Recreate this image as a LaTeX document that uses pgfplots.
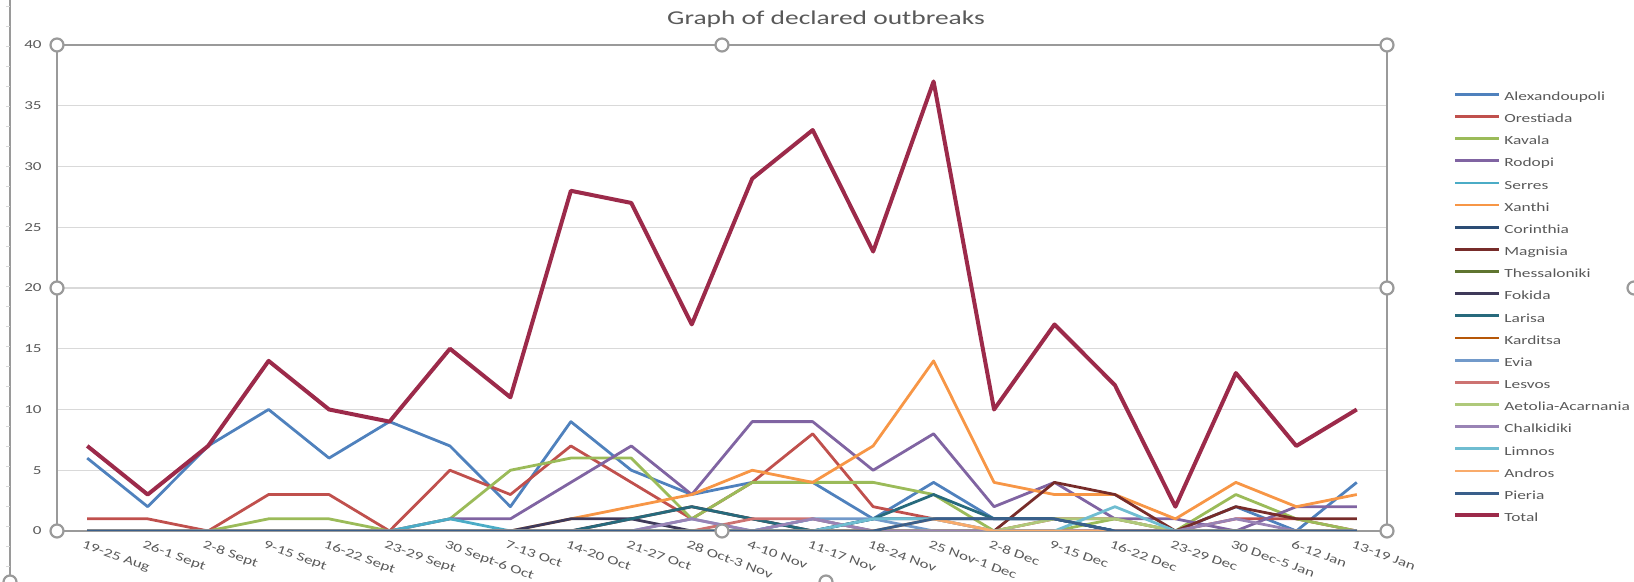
\documentclass[border=0pt]{standalone}
\usepackage{fontspec}
\setmainfont{Carlito}[FakeStretch=1.4]
\usepackage{pgfplots}
\pgfplotsset{compat=1.18}
\usepackage{pgfplotstable}

\definecolor{cAlex}{HTML}{4F81BD}
\definecolor{cOres}{HTML}{C0504D}
\definecolor{cKava}{HTML}{9BBB59}
\definecolor{cRodo}{HTML}{8064A2}
\definecolor{cSerr}{HTML}{4BACC6}
\definecolor{cXant}{HTML}{F79646}
\definecolor{cCori}{HTML}{2C4D75}
\definecolor{cMagn}{HTML}{772C2A}
\definecolor{cThes}{HTML}{5F7530}
\definecolor{cFoki}{HTML}{3F3A5A}
\definecolor{cLari}{HTML}{276A7C}
\definecolor{cKard}{HTML}{B65708}
\definecolor{cEvia}{HTML}{729ACA}
\definecolor{cLesv}{HTML}{CD7371}
\definecolor{cAeto}{HTML}{AFC97A}
\definecolor{cChal}{HTML}{9983B5}
\definecolor{cLimn}{HTML}{6FBDD1}
\definecolor{cAndr}{HTML}{F9AB6B}
\definecolor{cPier}{HTML}{3A5F8B}
\definecolor{cTotal}{HTML}{9C2A4A}
\definecolor{gridgray}{HTML}{D9D9D9}
\definecolor{framegray}{HTML}{9A9A9A}
\definecolor{labelgray}{HTML}{595959}

% weekly declared outbreaks per regional unit, weeks 0..21
\pgfplotstableread{
i  Alex Ores Kava Rodo Serr Xant Cori Magn Thes Foki Lari Kard Evia Lesv Aeto Chal Limn Andr Pier Total
0  6    1    0    0    0    0    0    0    0    0    0    0    0    0    0    0    0    0    0    7
1  2    1    0    0    0    0    0    0    0    0    0    0    0    0    0    0    0    0    0    3
2  7    0    0    0    0    0    0    0    0    0    0    0    0    0    0    0    0    0    0    7
3  10   3    1    0    0    0    0    0    0    0    0    0    0    0    0    0    0    0    0    14
4  6    3    1    0    0    0    0    0    0    0    0    0    0    0    0    0    0    0    0    10
5  9    0    0    0    0    0    0    0    0    0    0    0    0    0    0    0    0    0    0    9
6  7    5    1    1    1    0    0    0    0    0    0    0    0    0    0    0    0    0    0    15
7  2    3    5    1    0    0    0    0    0    0    0    0    0    0    0    0    0    0    0    11
8  9    7    6    4    0    1    0    0    0    1    0    0    0    0    0    0    0    0    0    28
9  5    4    6    7    0    2    0    1    0    1    1    0    0    0    0    0    0    0    0    27
10 3    1    1    3    0    3    0    2    0    0    2    0    1    0    0    1    0    0    0    17
11 4    4    4    9    0    5    0    1    0    0    1    0    0    1    0    0    0    0    0    29
12 4    8    4    9    1    4    0    0    0    0    0    0    1    1    0    1    0    0    0    33
13 1    2    4    5    0    7    1    0    0    0    1    0    1    0    0    0    1    0    0    23
14 4    1    3    8    0    14   1    0    0    0    3    0    0    0    0    0    1    1    1    37
15 1    0    0    2    0    4    1    0    0    0    1    0    0    0    0    0    0    0    1    10
16 1    1    0    4    0    3    1    4    0    0    1    0    0    0    1    0    0    0    1    17
17 0    1    1    1    0    3    0    3    0    0    0    0    0    0    1    0    2    0    0    12
18 0    0    0    1    0    1    0    0    0    0    0    0    0    0    0    0    0    0    0    2
19 2    1    3    0    0    4    0    2    0    0    0    0    0    0    0    1    0    0    0    13
20 0    1    1    2    0    2    0    1    0    0    0    0    0    0    0    0    0    0    0    7
21 4    0    0    2    0    3    0    1    0    0    0    0    0    0    0    0    0    0    0    10
}\outbreaks

\begin{document}
\begin{tikzpicture}
\begin{axis}[
  at={(28.5pt,25.5pt)}, anchor=south west,
  scale only axis,
  width=665pt, height=243pt,
  xmin=-0.5, xmax=21.5,
  ymin=0, ymax=40,
  xtick={0,...,21},
  xticklabels={19-25 Aug,26-1 Sept,2-8 Sept,9-15 Sept,16-22 Sept,23-29 Sept,
    30 Sept-6 Oct,7-13 Oct,14-20 Oct,21-27 Oct,28 Oct-3 Nov,4-10 Nov,11-17 Nov,
    18-24 Nov,25 Nov-1 Dec,2-8 Dec,9-15 Dec,16-22 Dec,23-29 Dec,30 Dec-5 Jan,
    6-12 Jan,13-19 Jan},
  ytick={0,5,...,40},
  ymajorgrids,
  grid style={draw=gridgray, line width=0.6pt},
  axis line style={draw=framegray, line width=0.8pt},
  major tick length=0pt,
  /pgf/number format/assume math mode=true,
  tick label style={font=\fontsize{6.1}{7}\selectfont, text=labelgray},
  xticklabel style={rotate=-20, anchor=north west, inner sep=0pt, xshift=0pt, yshift=-4.5pt},
  yticklabel style={anchor=east, inner sep=0pt, xshift=-7.5pt},
  legend style={at={(1.0451,0.913)}, anchor=north west, draw=none, fill=none,
    font=\fontsize{6.2}{7}\selectfont, text=labelgray,
    row sep=5.28pt,
    nodes={inner sep=0pt, text height=4.4pt, text depth=1.4pt},
    /tikz/every odd column/.style={column sep=1.5pt}},
  legend cell align=left,
  legend image code/.code={\draw[#1] (0pt,1.6pt) -- (22pt,1.6pt);},
  every axis plot/.append style={line width=1.4pt, line join=round},
]
\addplot[cAlex]  table[x=i, y=Alex]  {\outbreaks}; \addlegendentry{Alexandoupoli}
\addplot[cOres]  table[x=i, y=Ores]  {\outbreaks}; \addlegendentry{Orestiada}
\addplot[cKava]  table[x=i, y=Kava]  {\outbreaks}; \addlegendentry{Kavala}
\addplot[cRodo]  table[x=i, y=Rodo]  {\outbreaks}; \addlegendentry{Rodopi}
\addplot[cSerr]  table[x=i, y=Serr]  {\outbreaks}; \addlegendentry{Serres}
\addplot[cXant]  table[x=i, y=Xant]  {\outbreaks}; \addlegendentry{Xanthi}
\addplot[cCori]  table[x=i, y=Cori]  {\outbreaks}; \addlegendentry{Corinthia}
\addplot[cMagn]  table[x=i, y=Magn]  {\outbreaks}; \addlegendentry{Magnisia}
\addplot[cThes]  table[x=i, y=Thes]  {\outbreaks}; \addlegendentry{Thessaloniki}
\addplot[cFoki]  table[x=i, y=Foki]  {\outbreaks}; \addlegendentry{Fokida}
\addplot[cLari]  table[x=i, y=Lari]  {\outbreaks}; \addlegendentry{Larisa}
\addplot[cKard]  table[x=i, y=Kard]  {\outbreaks}; \addlegendentry{Karditsa}
\addplot[cEvia]  table[x=i, y=Evia]  {\outbreaks}; \addlegendentry{Evia}
\addplot[cLesv]  table[x=i, y=Lesv]  {\outbreaks}; \addlegendentry{Lesvos}
\addplot[cAeto]  table[x=i, y=Aeto]  {\outbreaks}; \addlegendentry{Aetolia-Acarnania}
\addplot[cChal]  table[x=i, y=Chal]  {\outbreaks}; \addlegendentry{Chalkidiki}
\addplot[cLimn]  table[x=i, y=Limn]  {\outbreaks}; \addlegendentry{Limnos}
\addplot[cAndr]  table[x=i, y=Andr]  {\outbreaks}; \addlegendentry{Andros}
\addplot[cPier]  table[x=i, y=Pier]  {\outbreaks}; \addlegendentry{Pieria}
\addplot[cTotal, line width=2pt] table[x=i, y=Total] {\outbreaks}; \addlegendentry{Total}
\end{axis}

% title and selection frame, in image pixels (origin top left)
\begin{scope}[x=0.5pt, y=-0.5pt, shift={(0pt,291pt)}]
  \node[anchor=base, inner sep=0pt, text=labelgray, font=\fontsize{9.8}{11}\selectfont]
    at (826,25) {Graph of declared outbreaks};
  \draw[framegray, line width=0.7pt] (10,0) -- (10,582);
  \foreach \t in {7,27,...,567} \draw[gridgray, line width=0.5pt] (6,\t) -- (10,\t);
  \foreach \p in {(57,45),(722,45),(1387,45),(57,288),(1387,288),(57,531),(722,531),(1387,531),
                  (10,582),(826,582),(1634,288)}
    \draw[framegray, line width=1.1pt, fill=white] \p circle[radius=6.5];
\end{scope}
\pgfresetboundingbox
\path[use as bounding box] (0pt,0pt) rectangle (817pt,291pt);
\end{tikzpicture}
\end{document}
